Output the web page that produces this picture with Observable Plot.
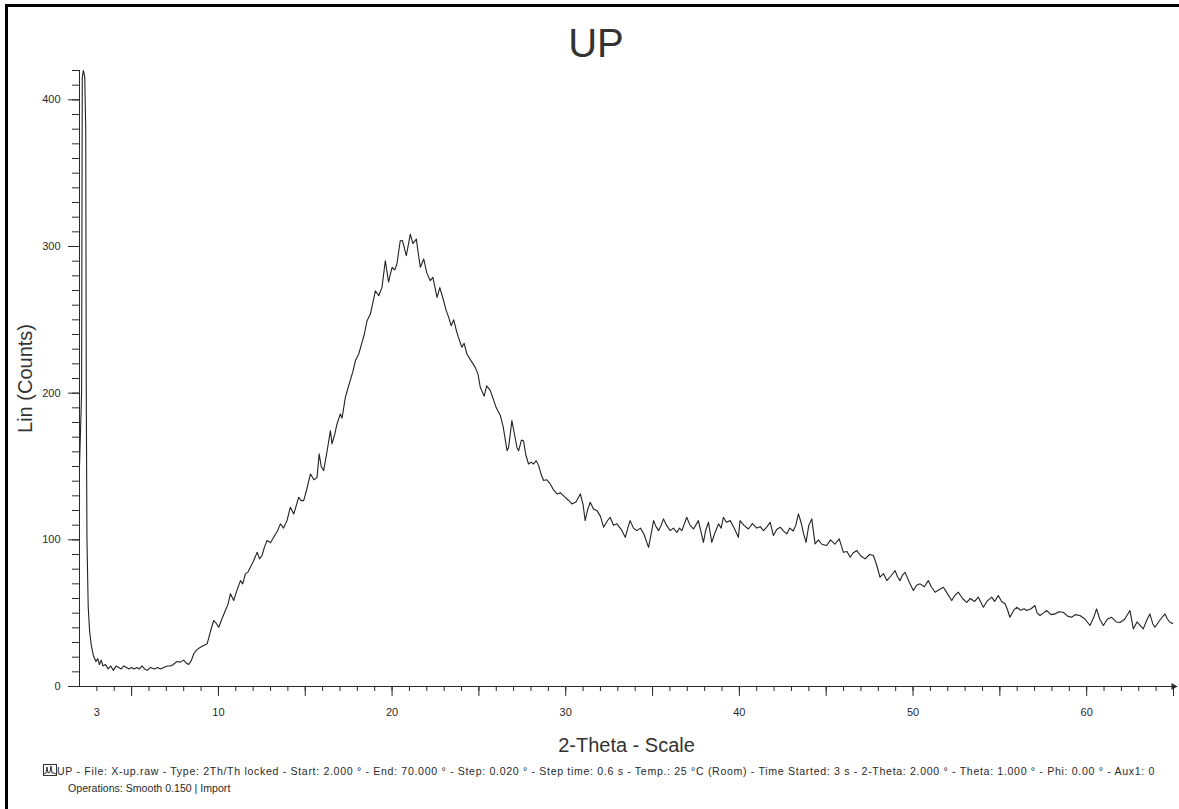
<!DOCTYPE html>
<html>
<head>
<meta charset="utf-8">
<script src="https://cdn.jsdelivr.net/npm/d3@7"></script>
<script src="https://cdn.jsdelivr.net/npm/@observablehq/plot@0.6"></script>
<style>
  html, body { margin: 0; padding: 0; background: #fff; }
  #page { position: relative; width: 1179px; height: 809px; overflow: hidden; background: #fff;
          font-family: "Liberation Sans", Arial, sans-serif; color: #2a2a2a; }
  .rule-left { position: absolute; left: 5px; top: 4px; width: 3px; height: 805px; background: #000; }
  .rule-top { position: absolute; left: 5px; top: 4px; width: 1174px; height: 3px; background: #000; }
  #title { position: absolute; left: 0; width: 1192px; top: 23px; text-align: center;
           font-size: 40px; line-height: 40px; color: #333; }
  #chart { position: absolute; left: 0; top: 62px; }
  .cap { position: absolute; font-size: 10.6px; line-height: 14px; white-space: nowrap; color: #2a2a2a; }
  #cap1 { left: 57px; top: 764px; }
  #cap2 { left: 68px; top: 781px; }
  #icon { position: absolute; left: 43px; top: 764px; }
</style>
</head>
<body>
<div id="page">
  <div class="rule-left"></div>
  <div class="rule-top"></div>
  <div id="title">UP</div>
  <div id="chart"></div>
  <svg id="icon" width="14" height="12" viewBox="0 0 14 12">
    <rect x="0.5" y="0.5" width="13" height="11" fill="none" stroke="#333" stroke-width="1"/>
    <polyline points="1,10 3,9 4,3 5,9 7,8 8,2 9,9 11,9 13,10" fill="none" stroke="#333" stroke-width="1"/>
  </svg>
  <div class="cap" id="cap1">UP - File: X-up.raw - Type: 2Th/Th locked - Start: 2.000 ° - End: 70.000 ° - Step: 0.020 ° - Step time: 0.6 s - Temp.: 25 °C (Room) - Time Started: 3 s - 2-Theta: 2.000 ° - Theta: 1.000 ° - Phi: 0.00 ° - Aux1: 0</div>
  <div class="cap" id="cap2">Operations: Smooth 0.150 | Import</div>
</div>
<script>
// Diffraction scan "UP": 2-theta (degrees) against intensity (counts)
const twoTheta = [
  2.00, 2.12, 2.16, 2.22, 2.30, 2.36, 2.39, 2.43, 2.50, 2.58, 2.68, 2.80, 2.95, 3.05, 3.15, 3.25, 3.35, 3.50,
  3.65, 3.80, 3.95, 4.10, 4.25, 4.40, 4.55, 4.70, 4.85, 5.00, 5.15, 5.30, 5.45, 5.60, 5.75, 5.90,
  6.09, 6.30, 6.50, 6.66, 6.85, 7.05, 7.24, 7.40, 7.60, 7.81, 8.00, 8.15, 8.29, 8.45, 8.58, 8.75,
  8.96, 9.15, 9.35, 9.55, 9.73, 9.88, 10.02, 10.20, 10.40, 10.55, 10.69, 10.88, 11.05, 11.27, 11.40,
  11.55, 11.70, 11.84, 12.00, 12.23, 12.37, 12.51, 12.65, 12.80, 13.00, 13.18, 13.40, 13.57, 13.75,
  13.95, 14.14, 14.34, 14.50, 14.62, 14.77, 14.91, 15.10, 15.30, 15.50, 15.68, 15.80, 15.92, 16.06,
  16.25, 16.45, 16.54, 16.70, 16.83, 17.02, 17.12, 17.31, 17.45, 17.60, 17.75, 17.89, 18.08, 18.27,
  18.40, 18.56, 18.75, 18.90, 19.04, 19.23, 19.42, 19.61, 19.80, 19.90, 20.00, 20.15, 20.28, 20.47,
  20.60, 20.82, 21.05, 21.20, 21.40, 21.50, 21.63, 21.82, 22.00, 22.20, 22.35, 22.59, 22.75, 22.97,
  23.10, 23.26, 23.40, 23.55, 23.73, 23.88, 24.02, 24.15, 24.31, 24.55, 24.79, 24.95, 25.08, 25.30,
  25.45, 25.66, 25.80, 26.00, 26.23, 26.40, 26.62, 26.71, 26.90, 27.05, 27.19, 27.29, 27.45, 27.57,
  27.70, 27.86, 28.00, 28.15, 28.30, 28.44, 28.60, 28.73, 28.90, 29.11, 29.30, 29.50, 29.70, 29.97,
  30.15, 30.36, 30.60, 30.84, 31.00, 31.12, 31.25, 31.41, 31.60, 31.80, 32.00, 32.18, 32.40, 32.56,
  32.75, 32.95, 33.20, 33.43, 33.60, 33.71, 33.90, 34.10, 34.30, 34.50, 34.77, 34.95, 35.06, 35.20,
  35.35, 35.50, 35.63, 35.80, 36.02, 36.20, 36.40, 36.55, 36.69, 36.97, 37.15, 37.36, 37.64, 37.93,
  38.05, 38.22, 38.41, 38.60, 38.80, 38.95, 39.08, 39.25, 39.47, 39.70, 39.94, 40.04, 40.25, 40.52,
  40.75, 41.00, 41.20, 41.39, 41.60, 41.77, 41.96, 42.15, 42.35, 42.55, 42.73, 42.90, 43.10, 43.25,
  43.40, 43.55, 43.70, 43.84, 44.00, 44.17, 44.36, 44.55, 44.75, 45.03, 45.25, 45.50, 45.75, 45.99,
  46.20, 46.38, 46.55, 46.76, 47.00, 47.24, 47.50, 47.72, 47.90, 48.10, 48.30, 48.49, 48.70, 48.97,
  49.10, 49.25, 49.40, 49.54, 49.75, 50.02, 50.20, 50.41, 50.65, 50.88, 51.05, 51.27, 51.50, 51.75,
  52.00, 52.23, 52.40, 52.61, 52.85, 53.09, 53.30, 53.55, 53.76, 54.05, 54.25, 54.53, 54.70, 54.91,
  55.10, 55.30, 55.45, 55.58, 55.80, 55.97, 56.20, 56.40, 56.54, 56.80, 57.02, 57.15, 57.31, 57.50,
  57.70, 57.95, 58.17, 58.40, 58.65, 58.90, 59.13, 59.35, 59.61, 59.90, 60.19, 60.40, 60.57, 60.75,
  60.96, 61.20, 61.44, 61.70, 61.92, 62.20, 62.49, 62.69, 62.90, 63.05, 63.26, 63.45, 63.64, 63.80,
  63.93, 64.20, 64.51, 64.65, 64.79, 65.00
];
const counts = [
  150, 200, 415, 420, 416, 380, 200, 100, 55, 38, 28, 21, 17, 19, 15, 18, 14, 15,
  12, 14, 11, 14, 13, 12, 14, 13, 12, 13, 12, 13, 12, 14, 12, 11,
  13, 12, 13, 12, 13, 14, 14, 15, 17, 16.6, 18, 16, 15, 18, 22.3, 25,
  26.8, 28, 29.1, 38, 45, 43, 40.4, 46, 51.8, 56, 63.2, 58.6, 65, 72.2, 70,
  76.8, 78, 81.3, 85, 91.5, 87, 89.3, 95, 99.5, 98, 101.7, 106, 110.9, 108,
  113.1, 122.2, 117.7, 124, 129, 126.7, 126.7, 135, 144.9, 141, 142.6, 158.6, 150, 147.2,
  160, 174.4, 165.4, 172, 179, 185.8, 183, 197.1, 203, 209, 215, 222.2, 226.7, 234.6,
  240, 249.4, 253.9, 262, 269.8, 266.4, 272.1, 290.3, 275.7, 281, 285.8, 284, 288.1, 303.9,
  304, 293.7, 308.5, 302, 305, 296, 285.8, 291.5, 282, 276.7, 279, 265.3, 272, 263,
  257, 251.7, 246, 250, 241.5, 236, 231.3, 234, 226.7, 222, 217.6, 213, 204, 198,
  205, 201.7, 197, 190, 185, 177, 160.8, 163, 181.3, 172, 163, 160.8, 168, 167.6,
  158, 151.7, 153, 151.7, 154, 150.6, 144, 140.4, 141, 138.1, 134, 131.3, 132, 129,
  127, 124.5, 126, 131.3, 124, 113.1, 120, 125.6, 121, 119.9, 116, 108.6, 113, 115.4,
  110, 110.9, 107, 101.7, 109, 113.1, 108, 106.3, 108, 104, 94.9, 106, 113.1, 109,
  106.3, 110, 114.3, 110, 106.3, 108, 105, 108, 106.3, 115.4, 110, 107.4, 113.1, 98.3,
  106, 112, 98.3, 105, 110.9, 108, 115.4, 112, 113.1, 108, 101.7, 113.1, 110, 107.4,
  111, 108, 109, 106.3, 109, 112, 102.9, 107, 108.6, 106, 104, 108, 106, 110,
  117.7, 112, 104, 98.3, 110, 114.3, 97.2, 100, 97, 96.1, 100, 97, 100.6, 91.5,
  92, 88.1, 91, 92.7, 89, 87, 90, 89.3, 83, 74.5, 77, 72.2, 75, 79,
  75, 72.2, 76, 77.9, 72, 65.4, 69, 70, 68, 72.2, 68, 64.3, 66, 67.7,
  63, 58.6, 62, 64.3, 60, 57.4, 60, 58, 60.9, 54, 58, 60.9, 58, 62,
  58, 56.4, 52, 47.2, 52, 54, 52, 53, 51.8, 53, 55.2, 50, 48.4, 50,
  51.8, 49, 49.5, 51, 50.6, 48, 47.2, 49, 48.4, 46, 41.6, 47, 52.9, 46,
  41.6, 46, 47.2, 44, 43.6, 46, 51.8, 39.3, 44, 42, 39.3, 45, 49.5, 43,
  40.4, 45, 49.5, 46, 43.8, 42.7
];

// Axis settings
const xDomain = [2, 65];
const yDomain = [0, 420];
const xLabelTicks = [3, 10, 20, 30, 40, 50, 60];
const xMinorTicks = d3.range(3, 66, 1);
const xMajorTicks = d3.range(5, 66, 5);
const yMajorTicks = [0, 100, 200, 300, 400];
const yMinorTicks = d3.range(0, 421, 10);
const xTitle = "2-Theta - Scale";
const yTitle = "Lin (Counts)";

const scan = twoTheta.map((t, i) => ({t, c: counts[i]}));
const ink = "#2a2a2a";
const blank = () => "";

const chart = Plot.plot({
  width: 1179,
  height: 700,
  marginLeft: 79,
  marginRight: 6,
  marginTop: 8,
  marginBottom: 76,
  x: {domain: xDomain},
  y: {domain: yDomain},
  style: {fontFamily: "'Liberation Sans', Arial, sans-serif", fontSize: "11px", color: ink, background: "transparent", overflow: "visible"},
  marks: [
    Plot.axisY(yMinorTicks, {tickSize: 7, tickFormat: blank, label: null, stroke: ink}),
    Plot.axisY(yMajorTicks, {tickSize: 11, tickPadding: 8, label: null, stroke: ink, fontSize: 11}),
    Plot.axisX(xMinorTicks, {tickSize: 5, tickFormat: blank, label: null, stroke: ink}),
    Plot.axisX(xMajorTicks, {tickSize: 10, tickFormat: blank, label: null, stroke: ink}),
    Plot.axisX(xLabelTicks, {tickSize: 0, tickPadding: 22, label: null, fontSize: 11}),
    Plot.ruleY([yDomain[0]], {stroke: ink}),
    Plot.ruleX([xDomain[0]], {stroke: ink}),
    Plot.dot([{x: xDomain[1], y: yDomain[0]}], {x: "x", y: "y", symbol: "triangle", r: 2.6, fill: ink, stroke: null, rotate: 90}),
    Plot.line(scan, {x: "t", y: "c", stroke: "#222", strokeWidth: 1.1, clip: true}),
    Plot.text([xTitle], {frameAnchor: "bottom", dy: 59, lineAnchor: "middle", textAnchor: "middle", fontSize: 20, fill: "#333"}),
    Plot.text([yTitle], {frameAnchor: "left", dx: -54, rotate: -90, lineAnchor: "middle", textAnchor: "middle", fontSize: 20, fill: "#333"})
  ]
});
document.getElementById("chart").appendChild(chart);

// Spread the scan-parameter line so it runs to the right edge of the plot
const cap1 = document.getElementById("cap1");
const targetWidth = 1098;
const natural = cap1.getBoundingClientRect().width;
cap1.style.letterSpacing = ((targetWidth - natural) / cap1.textContent.length).toFixed(3) + "px";
</script>
</body>
</html>
